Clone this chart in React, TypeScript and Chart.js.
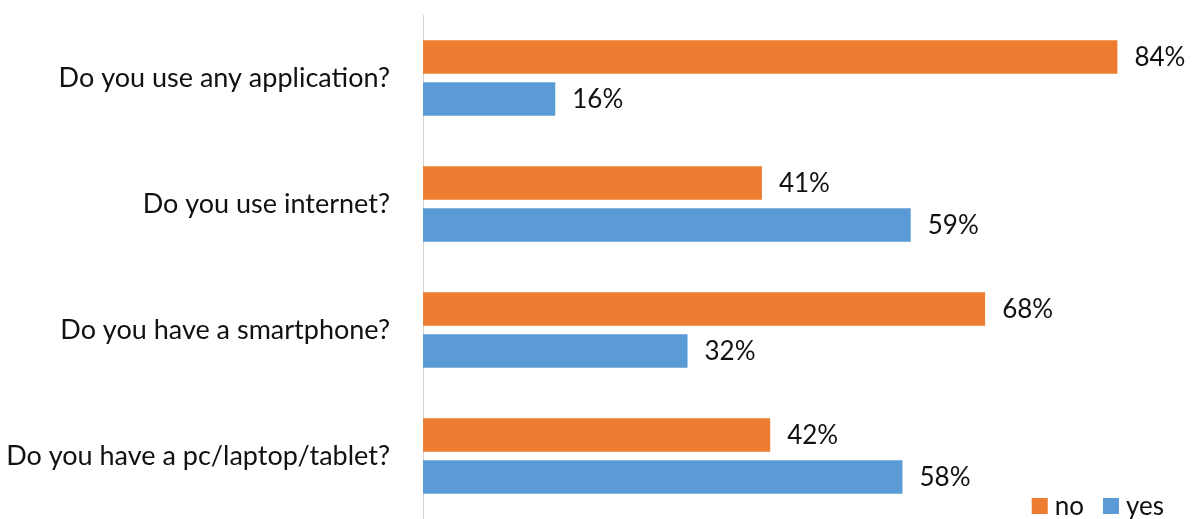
import React, { useEffect, useRef } from "react";
import { Chart, registerables } from "chart.js";

Chart.register(...registerables);

const categories = [
  "Do you use any application?",
  "Do you use internet?",
  "Do you have a smartphone?",
  "Do you have a pc/laptop/tablet?",
];
const noValues = [84, 41, 68, 42];
const yesValues = [16, 59, 32, 58];
const seriesNames = ["no", "yes"];
const seriesColors = ["#ED7D31", "#5B9BD5"];

const FONT_FAMILY = "Lato, 'Open Sans', sans-serif";
const LABEL_SIZE = 27;
const VALUE_SIZE = 26;

const dataLabelPlugin = {
  id: "dataLabels",
  afterDatasetsDraw(chart: any) {
    const ctx = chart.ctx;
    ctx.save();
    ctx.font = `${VALUE_SIZE}px ${FONT_FAMILY}`;
    ctx.fillStyle = "#111";
    ctx.textAlign = "left";
    ctx.textBaseline = "middle";
    chart.data.datasets.forEach((ds: any, i: number) => {
      const meta = chart.getDatasetMeta(i);
      meta.data.forEach((el: any, j: number) => {
        ctx.fillText(`${ds.data[j]}%`, el.x + 17, el.y + 1);
      });
    });
    ctx.restore();
  },
};

const legendPlugin = {
  id: "customLegend",
  afterDraw(chart: any) {
    const ctx = chart.ctx;
    ctx.save();
    ctx.font = `${VALUE_SIZE}px ${FONT_FAMILY}`;
    ctx.textBaseline = "middle";
    ctx.textAlign = "left";
    const box = 16;
    const boxGap = 7;
    const itemGap = 19;
    const items = chart.data.datasets.map((ds: any) => ({
      label: ds.label,
      color: ds.backgroundColor,
      w: ctx.measureText(ds.label).width,
    }));
    const total =
      items.reduce((s: number, it: any) => s + box + boxGap + it.w, 0) +
      itemGap * (items.length - 1);
    let x = chart.width - 30 - total;
    const cy = 506;
    items.forEach((it: any) => {
      ctx.fillStyle = it.color;
      ctx.fillRect(x, cy - box / 2, box, box);
      x += box + boxGap;
      ctx.fillStyle = "#111";
      ctx.fillText(it.label, x, cy + 1);
      x += it.w + itemGap;
    });
    ctx.restore();
  },
};

export default function App() {
  const canvasRef = useRef<HTMLCanvasElement>(null);

  useEffect(() => {
    if (!canvasRef.current) return;
    const chart = new Chart(canvasRef.current, {
      type: "bar",
      data: {
        labels: categories,
        datasets: [
          {
            label: seriesNames[0],
            data: noValues,
            backgroundColor: seriesColors[0],
            categoryPercentage: 0.667,
            barPercentage: 0.8,
          },
          {
            label: seriesNames[1],
            data: yesValues,
            backgroundColor: seriesColors[1],
            categoryPercentage: 0.667,
            barPercentage: 0.8,
          },
        ],
      },
      options: {
        indexAxis: "y",
        responsive: false,
        animation: false,
        devicePixelRatio: 1,
        layout: { padding: { top: 15, right: 27, bottom: 0, left: 0 } },
        plugins: {
          legend: { display: false },
          tooltip: { enabled: false },
        },
        scales: {
          x: { display: false, min: 0, max: 90 },
          y: {
            grid: { display: false, drawTicks: false },
            border: { display: true, color: "#d4d4d4", width: 1 },
            ticks: {
              color: "#111",
              padding: 33,
              font: { family: FONT_FAMILY, size: LABEL_SIZE },
            },
            afterFit: (scale: any) => {
              scale.width = 423;
              scale.paddingTop = 0;
              scale.paddingBottom = 0;
            },
          },
        },
      },
      plugins: [dataLabelPlugin, legendPlugin],
    });
    return () => chart.destroy();
  }, []);

  return (
    <div style={{ position: "fixed", left: 0, top: 0, width: 1194, height: 519, background: "#fff" }}>
      <canvas ref={canvasRef} width={1194} height={519} style={{ display: "block" }} />
    </div>
  );
}
